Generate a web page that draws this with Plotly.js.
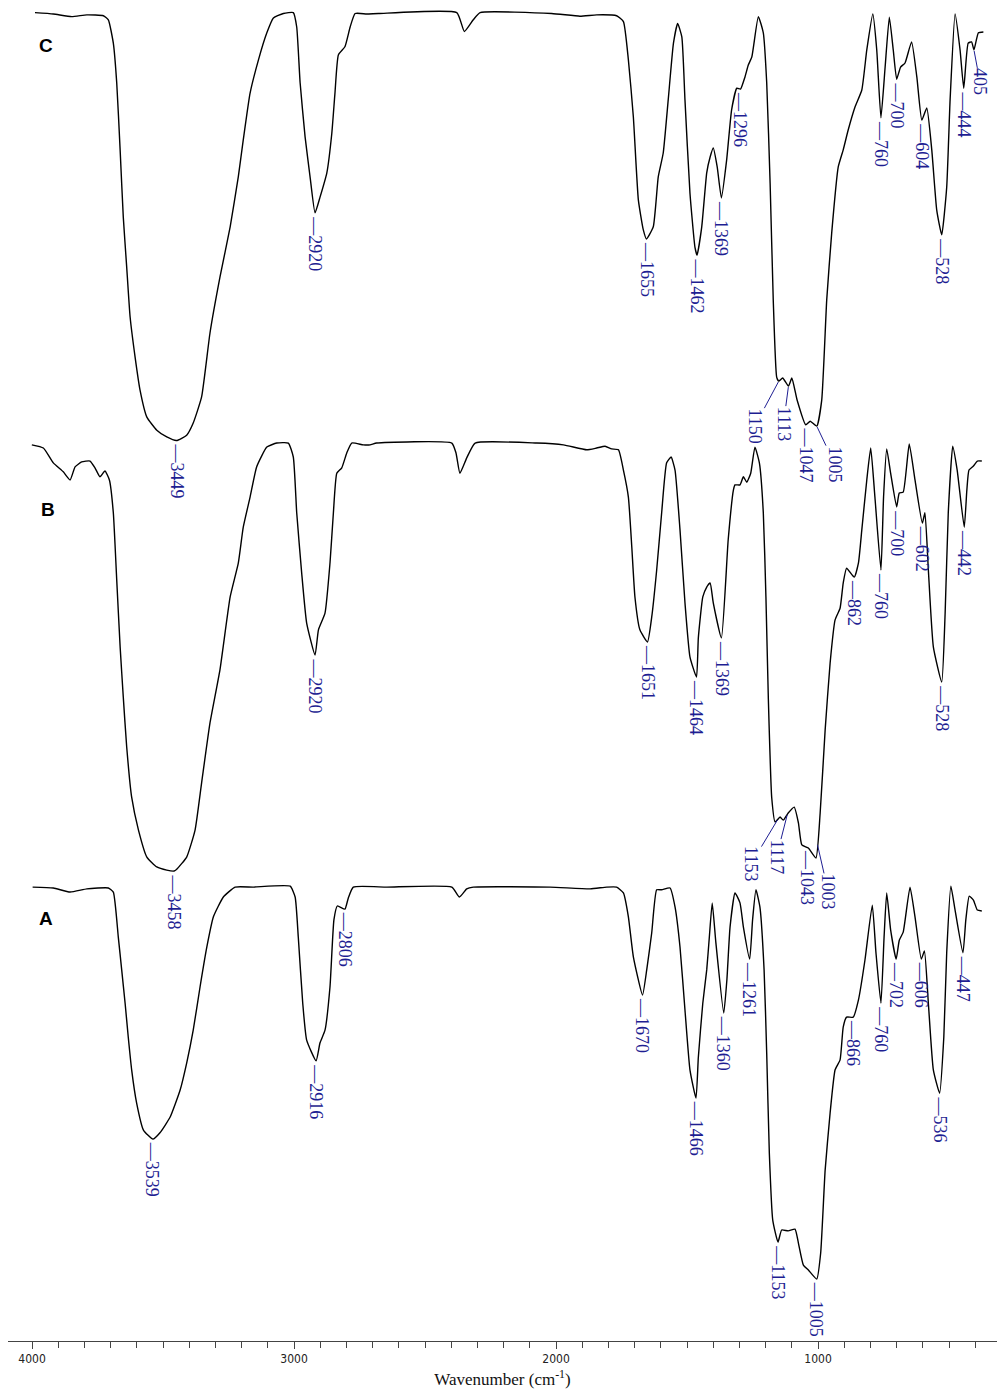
<!DOCTYPE html>
<html><head><meta charset="utf-8">
<script src="https://cdn.plot.ly/plotly-3.0.1.min.js"></script>
<style>html,body{margin:0;padding:0;background:#fff}#chart{width:997px;height:1390px}</style>
</head><body><div id="chart"></div>
<script>
// ---- Data (wavenumber cm^-1, transmittance a.u.) ----
const wnC = [3989,3919,3849,3791,3728,3709,3690,3677,3664,3652,3639,3626,3607,3588,3562,3524,3486,3449,3410,3385,3353,3321,3283,3244,3213,3194,3168,3136,3104,3079,3041,3003,2990,2977,2958,2939,2920,2901,2875,2856,2844,2831,2806,2786,2767,2723,2678,2379,2350,2316,2290,2017,1909,1845,1769,1743,1724,1705,1686,1667,1655,1629,1610,1591,1572,1552,1536,1520,1508,1489,1470,1462,1444,1425,1412,1400,1385,1369,1349,1330,1310,1296,1279,1266,1253,1228,1209,1196,1183,1171,1158,1150,1135,1113,1100,1080,1047,1030,1005,986,967,948,923,904,885,859,833,814,791,776,760,744,728,713,700,685,668,643,623,604,585,566,547,528,509,496,477,458,444,427,414,405,388,369];
const tC = [97.2,96.9,96.3,96.7,96.5,95.6,90.4,81.6,66.7,51.8,40.7,29.6,20.7,13.3,7.3,4.4,2.9,2.1,3.3,6.0,11.8,26.0,38.4,49.6,60.7,68.9,79.3,86.7,92.7,96.0,97.0,97.2,94.0,81.6,69.6,60.7,52.7,56.2,61.6,70.4,79.3,87.8,89.6,94.0,97.0,96.9,97.0,97.2,93.0,95.6,97.2,97.0,96.4,96.7,96.5,95.2,86.7,74.0,55.6,48.9,46.9,49.6,60.7,66.0,77.8,90.4,94.8,91.8,77.8,57.1,45.1,43.3,49.6,61.6,65.1,67.1,62.9,56.0,64.4,75.6,80.4,80.2,82.9,85.6,87.3,96.3,92.7,81.6,59.3,33.3,16.2,15.3,16.0,14.2,16.0,11.1,5.6,6.4,5.3,11.1,33.3,48.2,62.9,66.7,71.1,76.2,80.0,88.9,96.9,88.9,73.8,85.1,96.2,88.9,82.4,85.1,86.0,90.7,82.9,73.3,76.0,66.7,53.3,47.8,58.4,77.8,96.9,88.9,80.4,90.4,90.7,88.9,92.7,92.9];

const wnB = [4001,3957,3919,3881,3855,3836,3811,3779,3760,3741,3722,3705,3690,3677,3664,3652,3639,3620,3594,3562,3524,3486,3458,3448,3410,3378,3353,3321,3283,3244,3213,3194,3168,3143,3104,3066,3022,3003,2990,2971,2952,2920,2907,2882,2863,2850,2837,2818,2799,2780,2736,2710,2685,2398,2382,2367,2341,2309,2074,1972,1883,1845,1813,1788,1762,1743,1724,1711,1699,1680,1651,1635,1616,1597,1578,1561,1546,1527,1508,1489,1464,1457,1440,1425,1412,1400,1369,1343,1323,1317,1298,1285,1272,1257,1241,1224,1209,1199,1190,1177,1164,1145,1133,1114,1091,1075,1062,1037,1008,992,973,954,935,916,904,891,862,846,833,814,799,783,760,750,738,723,700,690,675,652,630,602,592,579,560,528,515,503,486,469,442,432,424,407,392,375];
const tB = [96.7,96.0,92.7,90.7,88.9,91.8,92.9,93.1,91.6,89.6,90.9,88.9,81.6,66.7,51.8,40.7,29.6,18.4,11.1,5.1,2.9,2.2,2.0,2.4,5.1,11.1,21.6,34.9,46.7,62.9,70.4,78.4,85.1,91.8,96.2,97.1,97.1,94.0,81.6,68.2,57.1,50.0,55.6,59.3,70.4,81.6,90.4,91.6,94.9,97.1,96.7,96.7,97.1,97.1,94.9,90.4,93.8,97.1,97.1,96.7,95.6,96.0,96.4,95.8,95.6,91.1,85.1,74.0,62.9,55.6,52.9,58.4,68.9,81.6,92.7,94.0,91.1,77.8,61.6,49.6,45.1,53.8,62.9,65.1,66.0,61.6,53.8,75.6,86.7,87.8,87.8,89.6,88.4,90.4,96.2,92.7,81.6,62.9,40.7,18.4,12.9,14.0,13.3,14.9,16.2,12.7,7.8,7.1,4.9,14.9,33.3,48.2,57.8,60.4,66.0,69.3,67.3,70.4,77.8,88.9,96.0,85.1,68.9,85.1,95.8,90.4,82.9,86.0,86.2,96.9,88.9,79.3,81.6,68.9,51.8,44.0,59.3,81.6,96.4,91.1,78.4,86.7,91.1,92.0,93.1,93.1];

const wnA = [3998,3919,3855,3791,3709,3690,3671,3658,3645,3633,3620,3601,3575,3539,3512,3473,3435,3410,3385,3359,3333,3308,3270,3225,3156,3015,2996,2984,2967,2952,2916,2901,2882,2863,2848,2835,2806,2793,2774,2646,2398,2369,2341,2316,2023,1870,1807,1769,1743,1724,1705,1670,1654,1635,1616,1597,1565,1546,1527,1508,1489,1466,1457,1440,1425,1415,1404,1390,1360,1348,1336,1317,1298,1285,1261,1250,1237,1222,1206,1196,1186,1173,1153,1139,1114,1088,1075,1056,1037,1005,990,973,954,935,916,904,891,866,846,821,793,779,760,748,738,723,702,690,675,649,630,606,594,579,560,536,520,509,493,477,447,436,423,407,392,375];
const tA = [96.2,96.0,95.1,95.8,96.0,95.1,85.1,77.8,70.4,62.9,55.6,48.2,42.2,40.2,41.6,45.1,51.1,57.1,64.4,74.0,82.9,89.6,94.0,96.2,96.2,96.4,94.0,85.1,70.4,62.2,57.6,61.6,64.4,74.0,88.9,92.0,91.3,93.8,96.2,96.2,96.2,94.0,95.8,96.2,96.2,95.8,96.2,96.2,94.9,89.6,80.7,72.2,77.8,86.0,95.6,95.6,96.0,91.8,82.9,68.9,55.6,49.3,58.4,70.4,77.8,85.1,92.7,83.8,68.2,75.6,87.3,94.9,92.7,87.3,80.2,88.9,95.6,91.8,77.8,59.3,37.1,22.2,17.3,20.0,19.8,20.2,17.1,12.2,11.1,9.1,14.9,33.3,46.0,55.6,57.8,65.1,67.3,67.3,71.1,80.0,92.2,81.6,70.4,85.1,94.9,86.7,80.2,84.4,86.2,96.2,89.6,80.2,82.0,70.4,55.6,50.4,62.9,81.6,96.4,91.1,81.6,88.9,94.2,93.3,91.1,90.9];

// Peak labels (cm^-1)
const peaksC = [3449,2920,1655,1462,1369,1296,1150,1113,1047,1005,760,700,604,528,444,405];
const peaksB = [3458,2920,1651,1464,1369,1153,1117,1043,1003,862,760,700,602,528,442];
const peaksA = [3539,2916,2806,1670,1466,1360,1261,1153,1005,866,760,702,606,536,447];
const seriesNames = ['C','B','A'];

// ---- Layout / style settings ----
const leaderOffsets = { // bent leader labels: [dx, dy] in px from peak to label centre
  C: {1150:[-24,45], 1113:[-5,38], 1005:[18,38], 405:[6,32]},
  B: {1153:[-27,45], 1117:[-11,43], 1003:[11,48]}
};
const labelColor = '#1e1e92';
const labelFont = {family:'Liberation Serif, Times New Roman, serif', size:18, color:labelColor};

function interpT(wn, T, w){
  for (let i=0;i<wn.length-1;i++){
    if (w<=wn[i] && w>=wn[i+1]){
      const f=(wn[i]-w)/(wn[i]-wn[i+1]);
      return T[i]+f*(T[i+1]-T[i]);
    }
  }
  return T[T.length-1];
}

const sets = [
  {name:'C', wn:wnC, t:tC, peaks:peaksC, ax:'y'},
  {name:'B', wn:wnB, t:tB, peaks:peaksB, ax:'y2'},
  {name:'A', wn:wnA, t:tA, peaks:peaksA, ax:'y3'}
];

const traces = sets.map(s => ({
  x: s.wn, y: s.t, xaxis:'x', yaxis:s.ax, type:'scatter', mode:'lines',
  line:{color:'#000', width:1.4, shape:'spline', smoothing:0.45}, hoverinfo:'skip', name:s.name
}));

const annotations = [];
sets.forEach(s => {
  const offs = leaderOffsets[s.name] || {};
  s.peaks.forEach(p => {
    const yv = interpT(s.wn, s.t, p);
    if (offs[p]) {
      annotations.push({x:p, y:yv, xref:'x', yref:s.ax, text:String(p), textangle:90,
        showarrow:true, arrowhead:0, arrowwidth:1, arrowcolor:labelColor,
        ax:offs[p][0], ay:offs[p][1], standoff:1, font:labelFont, borderpad:0});
    } else {
      annotations.push({x:p, y:yv, xref:'x', yref:s.ax, text:'\u2014'+p, textangle:90,
        showarrow:false, xanchor:'center', yanchor:'top', yshift:-2, font:labelFont, borderpad:0});
    }
  });
});
// panel letters
const letterPos = {C:[0.0384,0.9664], B:[0.0404,0.6204], A:[0.0384,0.3154]};
seriesNames.forEach(n => {
  annotations.push({xref:'paper', yref:'paper', x:letterPos[n][0], y:letterPos[n][1],
    text:'<b>'+n+'</b>', showarrow:false, xanchor:'center', yanchor:'middle',
    font:{family:'Liberation Sans, Arial, sans-serif', size:19, color:'#000'}});
});

const layout = {
  width:997, height:1390,
  margin:{l:8, r:0, t:0, b:49},
  paper_bgcolor:'#fff', plot_bgcolor:'rgba(0,0,0,0)',
  showlegend:false,
  xaxis:{
    range:[4092,317], autorange:false, anchor:'free', position:0,
    tickmode:'linear', tick0:0, dtick:1000,
    ticks:'outside', ticklen:7, tickwidth:1, tickcolor:'#444',
    showline:true, linecolor:'#444', linewidth:1,
    showgrid:false, zeroline:false,
    tickfont:{family:'Liberation Sans Narrow, DejaVu Sans Condensed, Arial Narrow, sans-serif', size:12, color:'#222'},
    minor:{dtick:100, tick0:0, ticks:'outside', ticklen:6, tickwidth:1, tickcolor:'#444', showgrid:false},
    title:{text:'Wavenumber (cm<sup>-1</sup>)', font:{family:'Liberation Serif, Times New Roman, serif', size:17, color:'#111'}, standoff:7}
  },
  yaxis:{domain:[0.66443,1], range:[0,100], visible:false, fixedrange:true},
  yaxis2:{domain:[0.34377,0.67934], range:[0,100], visible:false, fixedrange:true},
  yaxis3:{domain:[0.01566,0.35123], range:[0,100], visible:false, fixedrange:true},
  annotations: annotations
};

Plotly.newPlot('chart', traces, layout, {displayModeBar:false, staticPlot:true});
</script>
</body></html>
